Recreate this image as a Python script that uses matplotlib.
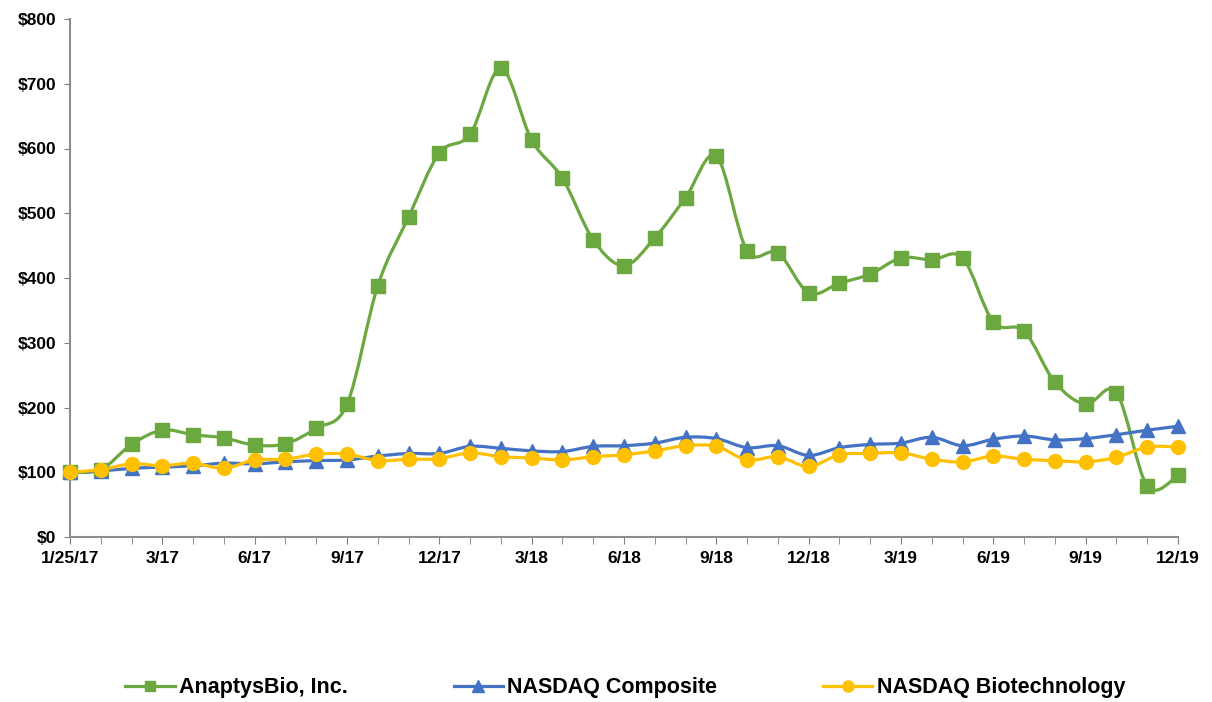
import matplotlib
matplotlib.use("Agg")
import matplotlib.pyplot as plt
from matplotlib.path import Path
from matplotlib.patches import PathPatch
import numpy as np

plt.rcParams['font.family'] = ['Liberation Sans', 'DejaVu Sans']

tick_labels = ["1/25/17", "3/17", "6/17", "9/17", "12/17", "3/18", "6/18",
               "9/18", "12/18", "3/19", "6/19", "9/19", "12/19"]

anaptys = [100, 104, 143, 165, 158, 153, 142, 144, 168, 205, 388, 494, 593,
           622, 724, 613, 554, 459, 419, 462, 524, 588, 442, 439, 377, 392,
           406, 431, 428, 431, 332, 318, 239, 205, 223, 79, 95]
nasdaq = [100, 102, 106, 108, 110, 114, 113, 116, 118, 119, 125, 129, 129,
          140, 137, 133, 132, 140, 141, 145, 154, 152, 138, 141, 126, 138,
          143, 145, 154, 141, 151, 156, 150, 152, 158, 165, 171]
biotech = [100, 104, 113, 110, 114, 106, 119, 120, 128, 128, 118, 120, 121,
           130, 124, 122, 119, 124, 127, 133, 141, 140, 119, 124, 109, 127,
           129, 130, 120, 116, 125, 120, 118, 116, 123, 139, 139]

names = ["AnaptysBio, Inc.", "NASDAQ Composite", "NASDAQ Biotechnology"]
colors = ["#6BA83F", "#4472C4", "#FFC000"]
markers = ["s", "^", "o"]
msizes = [9.5, 10, 10]

fig = plt.figure(figsize=(12.12, 7.02), dpi=100)
ax = fig.add_axes([70/1212, 1-537/702, (1178-70)/1212, (537-19)/702])

x = np.arange(len(anaptys))


def smooth_path(xs, ys):
    pts = np.column_stack([xs, ys]).astype(float)
    n = len(pts)
    verts = [pts[0]]
    codes = [Path.MOVETO]
    for i in range(n - 1):
        p0 = pts[i - 1] if i > 0 else pts[i]
        p1 = pts[i]
        p2 = pts[i + 1]
        p3 = pts[i + 2] if i + 2 < n else pts[i + 1]
        c1 = p1 + (p2 - p0) / 6.0
        c2 = p2 - (p3 - p1) / 6.0
        verts += [c1, c2, p2]
        codes += [Path.CURVE4] * 3
    return Path(verts, codes)


handles = []
series = [anaptys, nasdaq, biotech]
for k, (ys, c) in enumerate(zip(series, colors)):
    patch = PathPatch(smooth_path(x, ys), facecolor='none', edgecolor=c,
                      lw=2.3, zorder=2 + k * 0.1, clip_on=False)
    ax.add_patch(patch)
for k, (ys, c, m, ms, nm) in enumerate(zip(series, colors, markers, msizes, names)):
    ax.plot(x, ys, linestyle='none', marker=m, markersize=ms, color=c,
            markeredgecolor=c, zorder=3 + k * 0.1, clip_on=False)
    h, = ax.plot([], [], color=c, lw=2.3, marker=m, markersize=ms * 0.8,
                 label=nm)
    handles.append(h)

ax.set_xlim(0, len(anaptys) - 1)
ax.set_ylim(0, 800)
ax.set_yticks(np.arange(0, 801, 100))
ax.set_yticklabels([f"${v}" for v in range(0, 801, 100)], fontsize=12.5,
                   fontweight='bold')
ax.set_xticks(x, minor=True)
ax.set_xticks(np.arange(0, len(anaptys), 3))
ax.set_xticklabels(tick_labels, fontsize=12.5, fontweight='bold')
ax.tick_params(axis='x', which='both', length=5, color='#808080', pad=5)
ax.tick_params(axis='y', length=4, color='#808080', pad=6)

for s in ['top', 'right']:
    ax.spines[s].set_visible(False)
for s in ['left', 'bottom']:
    ax.spines[s].set_color('#8C8C8C')
    ax.spines[s].set_linewidth(1.5)

fig.legend(handles=handles, loc='center', bbox_to_anchor=(0.516, 0.02),
           ncol=3, frameon=False,
           prop={'weight': 'bold', 'size': 15.5}, handlelength=2.3,
           columnspacing=4.9, handletextpad=0.2)

fig.savefig("out.png", dpi=100)
